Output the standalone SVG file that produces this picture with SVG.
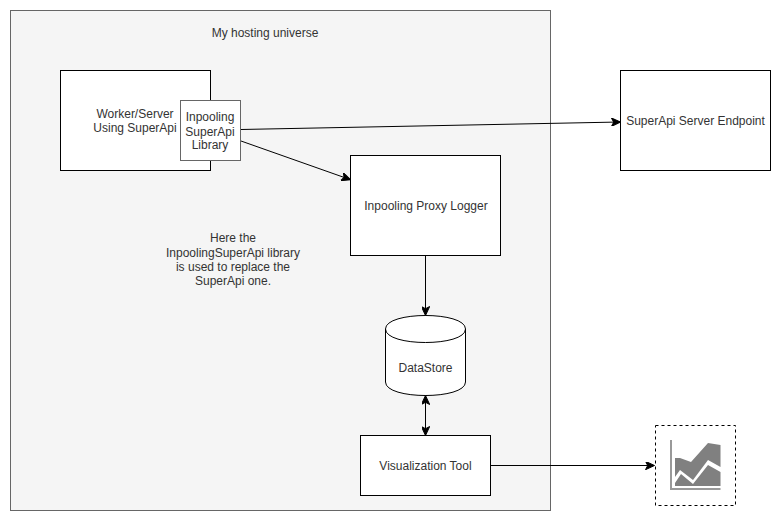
<svg xmlns="http://www.w3.org/2000/svg" width="781" height="521" viewBox="0 0 781 521">
<style>
text{font-family:"Liberation Sans",Arial,sans-serif;font-size:12px;fill:#333;text-anchor:middle}
.b{fill:#fff;stroke:#000;stroke-width:1}
.c{fill:none;stroke:#000;stroke-width:1}
</style>
<defs>
<marker id="a" viewBox="0 0 10 8" refX="9" refY="4" markerWidth="10" markerHeight="8" markerUnits="userSpaceOnUse" orient="auto-start-reverse"><path d="M9.500 4L0.500 8.200L2.700 4L0.500 -0.200Z" fill="#000" stroke="#000" stroke-width="1"/></marker>
</defs>
<rect width="781" height="521" fill="#fff"/>
<g id="universe"><rect x="10.500" y="10.500" width="540" height="500" fill="#f5f5f5" stroke="#666"/><text x="265" y="37">My hosting universe</text></g>
<g id="worker"><rect class="b" x="60.500" y="70.500" width="150" height="100"/><text x="135" y="118">Worker/Server</text><text x="135" y="132">Using SuperApi</text></g>
<g id="library"><rect x="180.500" y="100.500" width="60" height="60" fill="#fff" stroke="#666"/><text x="210" y="121">Inpooling</text><text x="210" y="136">SuperApi</text><text x="210" y="149">Library</text></g>
<g id="endpoint"><rect class="b" x="620.500" y="70.500" width="150" height="100"/><text x="695.500" y="125">SuperApi Server Endpoint</text></g>
<g id="logger"><rect class="b" x="350.500" y="155.500" width="150" height="100"/><text x="426" y="210">Inpooling Proxy Logger</text></g>
<g id="note"><text x="233" y="242">Here the</text><text x="233" y="257">InpoolingSuperApi library</text><text x="233" y="271">is used to replace the</text><text x="233" y="285">SuperApi one.</text></g>
<g id="datastore"><path class="b" d="M385.500 329C385.500 311 465.500 311 465.500 329V382C465.500 400 385.500 400 385.500 382Z"/><path class="c" d="M385.500 329C385.500 347 465.500 347 465.500 329"/><text x="425.500" y="372">DataStore</text></g>
<g id="viz"><rect class="b" x="360.500" y="435.500" width="130" height="60"/><text x="425.500" y="470">Visualization Tool</text></g>
<g id="chart"><rect x="655.500" y="425.500" width="80" height="80" fill="#fff" stroke="#000" stroke-dasharray="3 3"/>
<path d="M671 440V489H720.500" fill="none" stroke="#999" stroke-width="2"/>
<path d="M675 477V458L680 458L691 462L708 443L720.500 445V467L708 460L693 480L680 470Z" fill="#808080"/>
<path d="M675 486V483L681 474L693 484L708 465L720.500 472V486Z" fill="#808080"/></g>
<g id="connectors">
<path class="c" marker-end="url(#a)" d="M241 129.500L620 122"/>
<path class="c" marker-end="url(#a)" d="M241 141L350 179.500"/>
<path class="c" marker-end="url(#a)" d="M425.500 256V315"/>
<path class="c" marker-start="url(#a)" marker-end="url(#a)" d="M425.500 396V435"/>
<path class="c" marker-end="url(#a)" d="M491 465.500H654"/>
</g>
</svg>
